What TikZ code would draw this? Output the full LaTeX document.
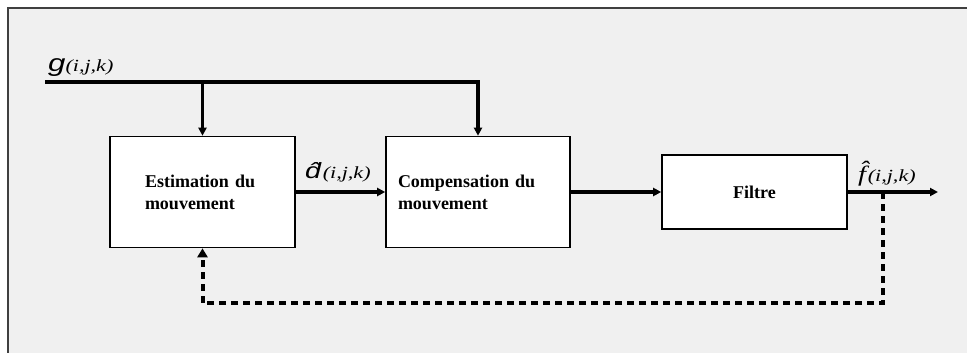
\documentclass[tikz,border=0pt]{standalone}
\usepackage{fontspec}
\setmainfont{Liberation Serif}
\newfontfamily\sigfont[FakeStretch=1.3]{Liberation Sans}
\newfontfamily\idxfont[FakeStretch=1.3]{Liberation Serif}
\usetikzlibrary{arrows.meta}
\definecolor{panel}{HTML}{F0F0F0}
\definecolor{framegray}{HTML}{404040}
\newcommand{\idx}{{\idxfont\itshape\fontsize{17}{17}\selectfont(i,j,k)}}

\begin{document}
\begin{tikzpicture}
[x=1pt,y=-1pt
,blk/.style={draw,line width=1.6pt,fill=white,font=\fontsize{18}{22}\selectfont\bfseries,align=left,inner sep=0pt}
,sig/.style={line width=3.2pt,arrows={-Triangle[length=8pt,width=8pt]}}
,fb/.style={line width=4pt,dash pattern=on 7pt off 5pt,arrows={-Triangle[length=9pt,width=10pt]}}
,lbl/.style={inner sep=0pt,anchor=base west}]
\useasboundingbox (0,0) rectangle (967,353);
\fill[panel] (8,8) rectangle (967,353);
\draw[framegray,line width=1.5pt] (8,353) -- (8,8) -- (967,8);

\node[blk,minimum width=185pt,minimum height=111pt,text width=115pt] (est) at (202.5,192) {Estimation du\\mouvement};
\node[blk,minimum width=184pt,minimum height=111pt,text width=160pt] (comp) at (478,192) {Compensation du\\mouvement};
\node[blk,minimum width=185pt,minimum height=74pt,align=center] (filt) at (754.5,192) {Filtre};

\coordinate (gin) at (45,82);
\coordinate (tap) at (883,192);
\coordinate (fbc) at (883,303);
\coordinate (fout) at (938,192);

\draw[sig] (gin) -- (comp.north |- gin) -- (comp.north);
\draw[sig] (est.north |- gin) -- (est.north);
\draw[sig] (est) -- (comp);
\draw[sig] (comp) -- (filt);
\draw[sig] (filt) -- (fout);
\draw[fb] (tap) -- (fbc) -| (est.south);

\node[lbl] (glbl) at (48,71) {{\sigfont\itshape\fontsize{24}{24}\selectfont g}\idx};
\node[lbl] (dlbl) at (305,178) {{\sigfont\itshape\fontsize{22}{22}\selectfont\^{d}}\,\idx};
\node[lbl] (flbl) at (858,181) {{\idxfont\itshape\fontsize{22}{22}\selectfont\^{f}}\,\idx};
\end{tikzpicture}
\end{document}
